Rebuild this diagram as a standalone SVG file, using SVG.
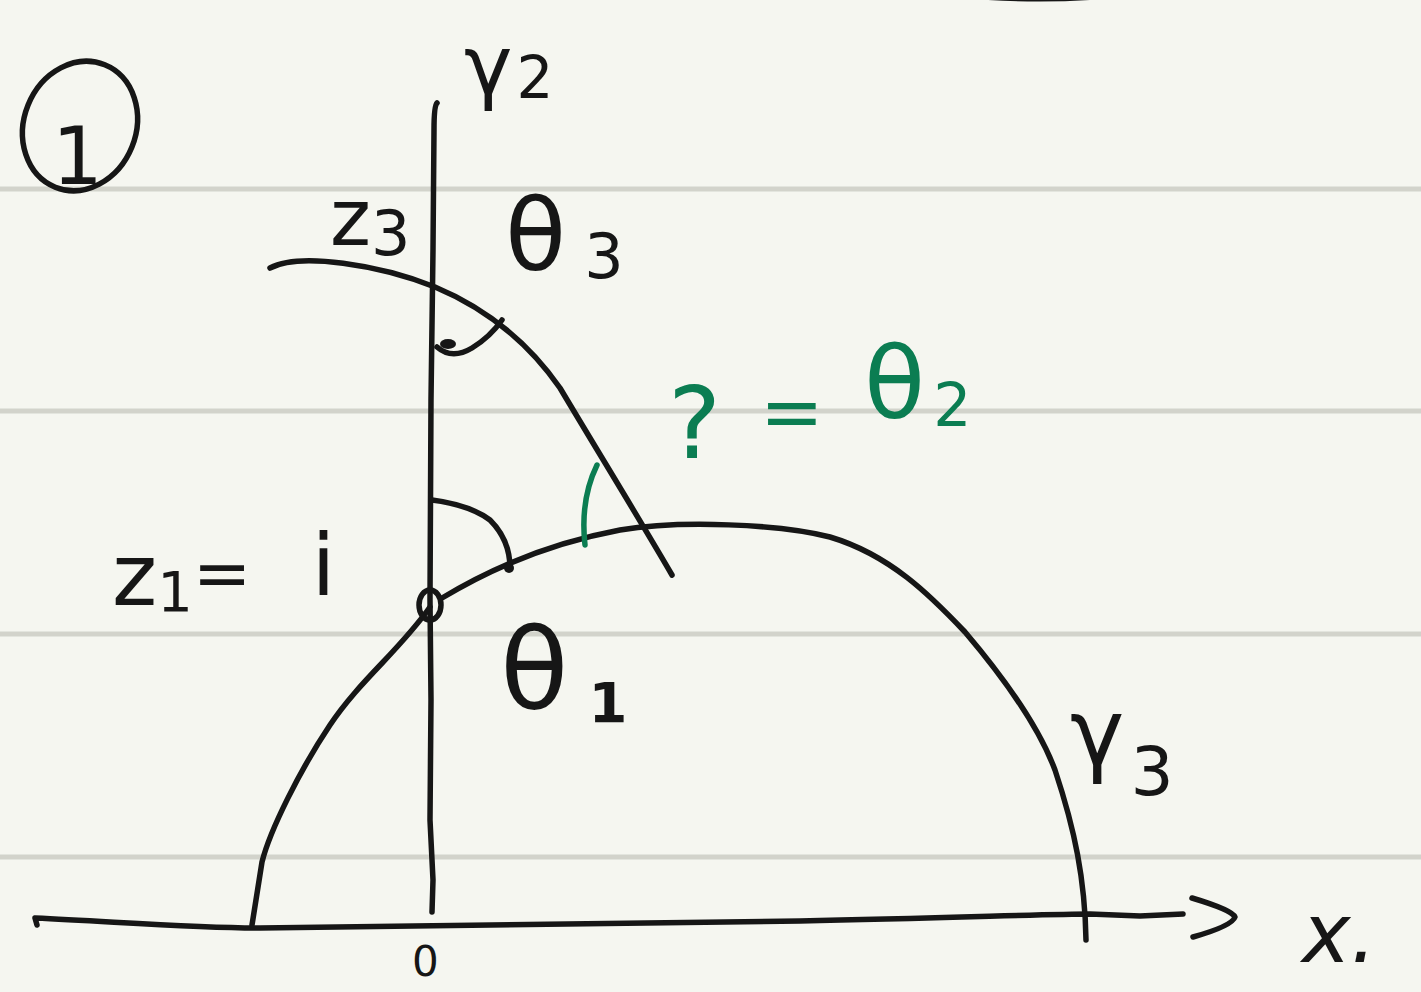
<svg xmlns="http://www.w3.org/2000/svg" width="1421" height="992" viewBox="0 0 1421 992">
<style>
.ink{fill:none;stroke:#161616;stroke-width:5.5;stroke-linecap:round;stroke-linejoin:round}
.green{fill:none;stroke:#0b7d52;stroke-width:5.5;stroke-linecap:round;stroke-linejoin:round}
.rule{stroke:#d2d3cb;stroke-width:5}
.t{font-family:"DejaVu Sans","Noto Sans",sans-serif;fill:#161616}
.tg{font-family:"DejaVu Sans","Noto Sans",sans-serif;fill:#0b7d52}
</style>
<rect width="1421" height="992" fill="#f5f6f0"/>
<g id="rules">
<line class="rule" x1="0" y1="189" x2="1421" y2="189"/>
<line class="rule" x1="0" y1="411" x2="1421" y2="411"/>
<line class="rule" x1="0" y1="634" x2="1421" y2="634"/>
<line class="rule" x1="0" y1="857" x2="1421" y2="857"/>
</g>
<path d="M988,0 Q1040,3 1090,0 Z" fill="#161616"/>
<g id="circle1">
<ellipse class="ink" cx="80" cy="126" rx="56" ry="66" transform="rotate(22 80 126)"/>
<text class="t" x="52" y="184" font-size="80">1</text>
</g>
<g id="axes">
<path class="ink" d="M437,103 Q434,106 434,130 L433,250 L431,400 L430,600 L431,700 L430,820 L433,880 L432,912"/>
<path class="ink" d="M37,925 L35,918 C120,922 200,928 260,928 C420,926 600,923 800,921 C950,918 1050,914 1090,914 L1140,916 L1183,914"/>
<path class="ink" d="M1192,898 Q1232,910 1235,917 Q1232,926 1193,937"/>
<text class="t" x="412" y="976" font-size="42">0</text>
<text class="t" x="1302" y="962" font-size="82" font-style="italic">x.</text>
</g>
<g id="gamma2">
<text class="t" x="464" y="94" font-size="82">γ<tspan font-size="58" dx="4" dy="4">2</tspan></text>
</g>
<g id="gamma3curve">
<path class="ink" d="M430,607 C400,650 360,680 330,725 C300,770 270,830 262,862 L252,925"/>
<path class="ink" d="M442,598 C480,575 540,545 620,530 C680,520 780,524 830,537 C890,555 930,595 965,632 C1010,685 1040,730 1055,770 C1075,830 1085,880 1086,940"/>
<ellipse class="ink" cx="430" cy="605" rx="11" ry="15" stroke-width="7"/>
</g>
<g id="z3curve">
<path class="ink" d="M270,268 C300,252 380,265 435,287 C490,310 530,345 560,388 C600,455 640,520 672,575"/>
<path class="ink" stroke-width="7" d="M437,347 Q452,360 472,348 Q490,337 502,320"/>
<ellipse cx="448" cy="344" rx="8" ry="5" fill="#161616"/>
</g>
<g id="angle1">
<path class="ink" d="M432,500 Q470,505 490,520 Q510,540 510,568"/>
<circle cx="509" cy="568" r="5" fill="#161616"/>
</g>
<g id="labels">
<text class="t" x="330" y="245" font-size="78">z<tspan font-size="62" dy="10">3</tspan></text>
<text class="t" x="505" y="270" font-size="100">θ<tspan font-size="62" dx="18" dy="8">3</tspan></text>
<text class="t" x="112" y="605" font-size="86">z<tspan font-size="56" dy="6">1</tspan><tspan font-size="70" dy="-14">=</tspan><tspan dx="60" dy="-2">i</tspan></text>
<text class="t" x="500" y="708" font-size="112">θ<tspan font-size="56" font-weight="bold" dx="20" dy="14">1</tspan></text>
<text class="t" x="1070" y="765" font-size="92">γ<tspan font-size="68" dx="6" dy="30">3</tspan></text>
</g>
<g id="theta2">
<path class="green" d="M597,465 Q580,500 585,545"/>
<text class="tg" x="668" y="458" font-size="100">?</text>
<text class="tg" x="760" y="438" font-size="76">=</text>
<text class="tg" x="864" y="418" font-size="100">θ<tspan font-size="60" dx="8" dy="8">2</tspan></text>
</g>
</svg>
